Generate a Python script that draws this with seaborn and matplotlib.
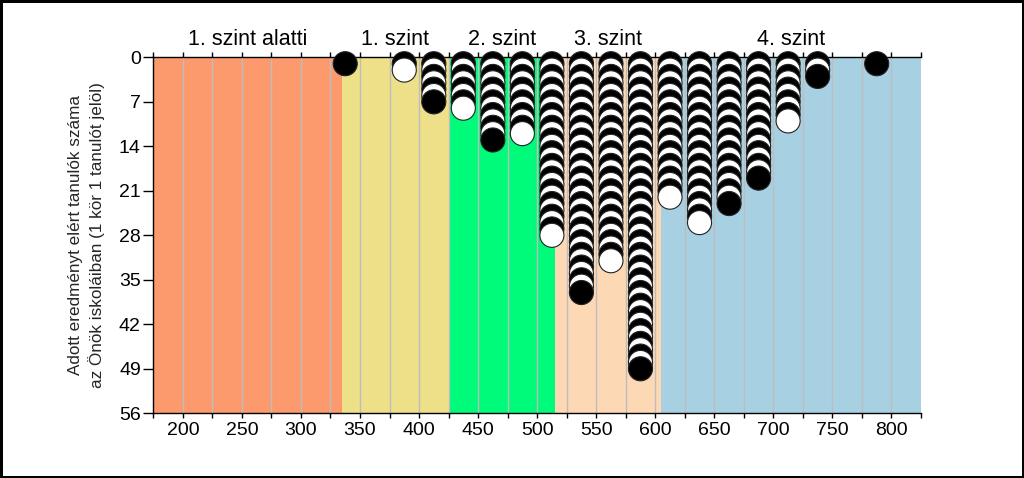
import numpy as np
import matplotlib
matplotlib.use("Agg")
import matplotlib.pyplot as plt
import matplotlib.transforms as mtransforms
import seaborn as sns
import pandas as pd

# score bins (centre of each 25 point bin) and number of students in them
bin_centres = [337.5, 387.5, 412.5, 437.5, 462.5, 487.5, 512.5, 537.5, 562.5,
               587.5, 612.5, 637.5, 662.5, 687.5, 712.5, 737.5, 787.5]
student_counts = [1, 2, 7, 8, 13, 12, 28, 37, 32, 49, 22, 26, 23, 19, 10, 3, 1]

level_names = ['1. szint alatti', '1. szint', '2. szint', '3. szint', '4. szint']
level_edges = [175, 335, 425, 515, 605, 825]
level_colors = ['#FC9A6E', '#EEE089', '#00FA7A', '#FDD8B5', '#A7D0E2']

ylabel = 'Adott eredményt elért tanulók száma\naz Önök iskoláiban (1 kör 1 tanulót jelöl)'


def draw():
    sns.set_theme(style="white")
    plt.rcParams['font.family'] = ['Liberation Sans', 'DejaVu Sans']

    rows = []
    for x, n in zip(bin_centres, student_counts):
        for k in range(1, n + 1):
            rows.append({'score': x, 'count': k, 'tone': 'odd' if k % 2 else 'even'})
    df = pd.DataFrame(rows)

    fig = plt.figure(figsize=(10.24, 4.78), dpi=100)
    fig.patch.set_edgecolor('black')
    fig.patch.set_linewidth(2.5)
    ax = fig.add_axes([0.1497, 0.1354, 0.7497, 0.7446])

    # level bands
    trans = mtransforms.blended_transform_factory(ax.transData, ax.transAxes)
    for i in range(len(level_names)):
        ax.axvspan(level_edges[i], level_edges[i + 1], color=level_colors[i], lw=0, zorder=0)
        ax.text((level_edges[i] + level_edges[i + 1]) / 2, 1.035, level_names[i],
                transform=trans, ha='center', va='baseline', fontsize=15.5, color='black')

    for gx in range(200, 825, 25):
        ax.axvline(gx, color='#BDBDBD', lw=1, zorder=1)

    sns.scatterplot(data=df, x='score', y='count', hue='tone',
                    palette={'odd': 'black', 'even': 'white'},
                    s=300, edgecolor='#222222', linewidth=0.8,
                    legend=False, ax=ax, zorder=3, clip_on=False)

    ax.set_xlim(175, 825)
    ax.set_ylim(56, 0)
    ax.set_yticks(range(0, 57, 7))
    xt = list(range(175, 826, 25))
    ax.set_xticks(xt)
    ax.set_xticklabels([str(v) if v % 50 == 0 else '' for v in xt])
    ax.tick_params(axis='both', direction='out', width=1, color='black',
                   labelsize=14, labelcolor='black')
    ax.tick_params(axis='x', top=True, bottom=True, length=3.5, pad=3)
    ax.tick_params(axis='y', left=True, length=7, pad=2)

    for side in ['left', 'bottom', 'top']:
        ax.spines[side].set_color('black')
        ax.spines[side].set_linewidth(1)
    ax.spines['right'].set_visible(False)

    ax.set_xlabel('')
    ax.set_ylabel(ylabel, fontsize=12.3, labelpad=10, linespacing=1.35)

    fig.savefig('out.png', dpi=100)


if __name__ == '__main__':
    draw()
